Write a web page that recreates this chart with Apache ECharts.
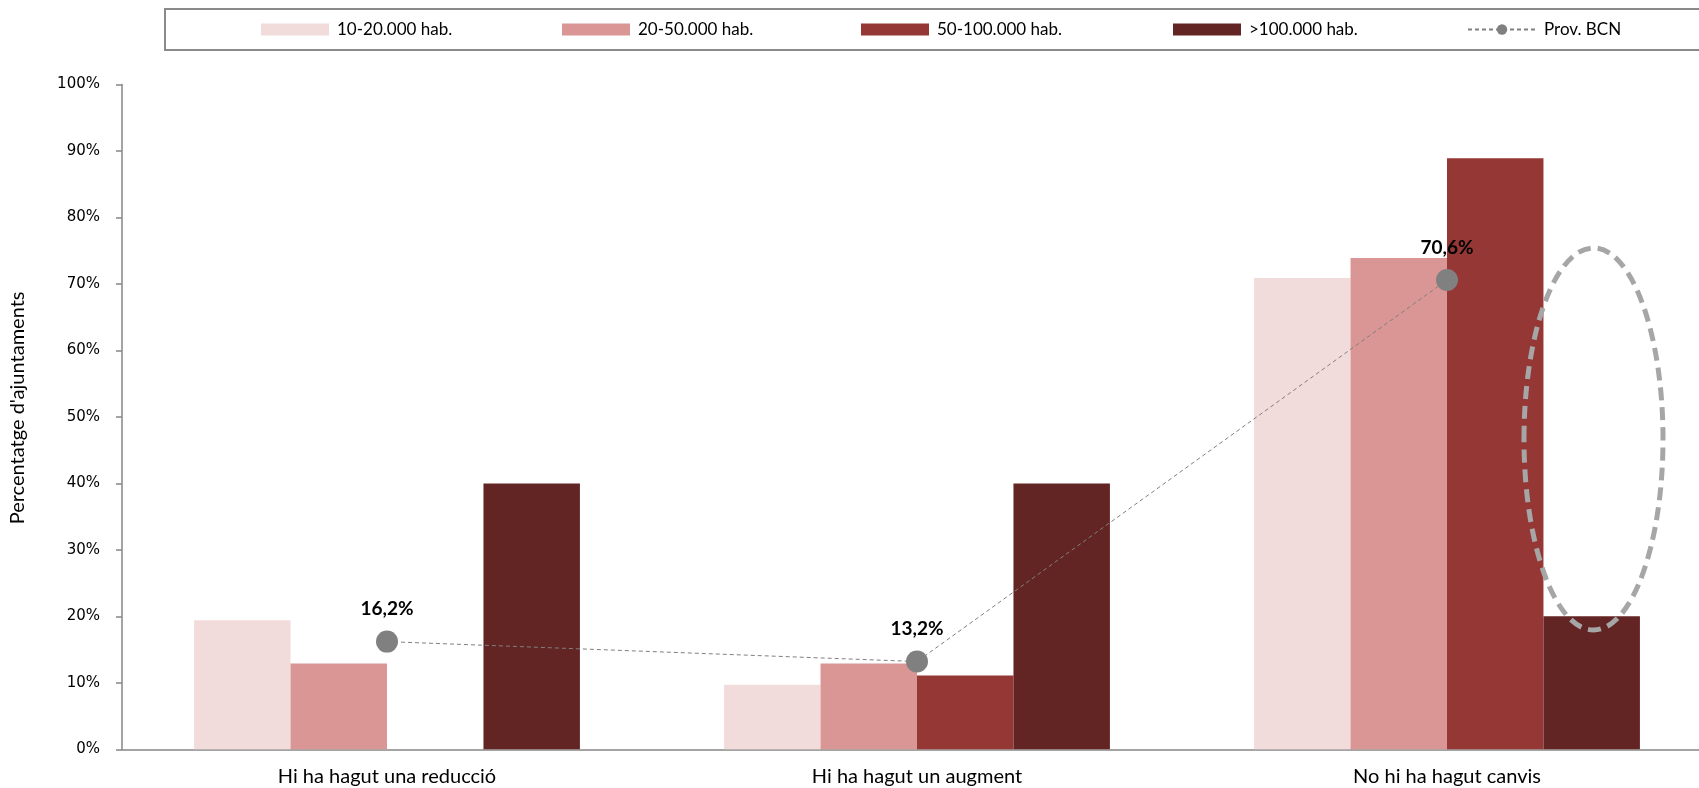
<!DOCTYPE html>
<html>
<head>
<meta charset="utf-8">
<script src="https://cdn.jsdelivr.net/npm/echarts@6/dist/echarts.min.js"></script>
<style>
html,body{margin:0;padding:0;background:#fff;}
#chart{width:1699px;height:788px;}
</style>
</head>
<body>
<div id="chart"></div>
<script>
const categories = ['Hi ha hagut una reducció', 'Hi ha hagut un augment', 'No hi ha hagut canvis'];
const seriesNames = ['10-20.000 hab.', '20-50.000 hab.', '50-100.000 hab.', '>100.000 hab.'];
const s10_20 = [19.4, 9.7, 70.9];
const s20_50 = [12.9, 12.9, 73.9];
const s50_100 = [0, 11.1, 88.9];
const s100 = [40, 40, 20];
const provBCN = [16.2, 13.2, 70.6];
const lineName = 'Prov. BCN';
const yTicks = [0, 10, 20, 30, 40, 50, 60, 70, 80, 90, 100];

const barColors = ['#F2DCDB', '#D99694', '#953735', '#632523'];
const barData = [s10_20, s20_50, s50_100, s100];

const chart = echarts.init(document.getElementById('chart'), null, {renderer: 'canvas'});

const legendLefts = [261, 562, 861, 1173, 1467];
const legendNames = seriesNames.concat([lineName]);
const legends = legendNames.map((n, i) => ({
  data: [n],
  left: legendLefts[i],
  top: 21,
  padding: 0,
  itemWidth: 68,
  itemHeight: i < 4 ? 12 : 13,
  itemGap: 0,
  icon: i < 4 ? 'rect' : undefined,
  textStyle: {fontFamily: 'Lato', fontSize: 17, color: '#000', padding: [0, 0, 0, 3]},
  selectedMode: false
}));

const series = barData.map((d, i) => ({
  name: seriesNames[i],
  type: 'bar',
  data: d,
  barGap: '0%',
  barCategoryGap: '27.2%',
  itemStyle: {color: barColors[i]},
  z: 2
}));
series.push({
  name: lineName,
  type: 'line',
  data: provBCN,
  symbol: 'circle',
  symbolSize: 22,
  itemStyle: {color: '#808080'},
  lineStyle: {color: '#808080', width: 1, type: [4, 3]},
  label: {
    show: true,
    position: 'top',
    distance: 12,
    fontFamily: 'Lato',
    fontWeight: 'bold',
    fontSize: 19,
    color: '#000',
    formatter: p => p.value.toFixed(1).replace('.', ',') + '%'
  },
  z: 5
});

chart.setOption({
  animation: false,
  backgroundColor: '#fff',
  legend: legends,
  grid: {left: 122, width: 1590, top: 84.5, bottom: 38.7, containLabel: false, outerBoundsMode: 'none'},
  xAxis: {
    type: 'category',
    data: categories,
    axisLine: {show: true, lineStyle: {color: '#868686', width: 1.5}},
    axisTick: {show: false},
    axisLabel: {fontFamily: 'Lato', fontSize: 20, color: '#000', margin: 17}
  },
  yAxis: {
    type: 'value',
    min: yTicks[0],
    max: yTicks[yTicks.length - 1],
    interval: 10,
    name: "Percentatge d'ajuntaments",
    nameLocation: 'middle',
    nameGap: 94,
    nameRotate: 90,
    nameTextStyle: {fontFamily: 'Lato', fontSize: 20, color: '#000', padding: [0, 0, 0, 18]},
    axisLine: {show: true, lineStyle: {color: '#868686', width: 1.5}},
    axisTick: {show: true, inside: false, length: 6, lineStyle: {color: '#868686', width: 1.5}},
    splitLine: {show: false},
    axisLabel: {fontFamily: 'DejaVu Sans', fontSize: 15, color: '#000', margin: 22, formatter: '{value}%'}
  },
  graphic: [
    {
      type: 'rect',
      shape: {x: 165, y: 9, width: 1600, height: 41},
      style: {fill: 'none', stroke: '#8a8a8a', lineWidth: 2},
      silent: true,
      z: 0
    },
    {
      type: 'ellipse',
      shape: {cx: 1593.5, cy: 439, rx: 69.5, ry: 191},
      style: {fill: 'none', stroke: '#A6A6A6', lineWidth: 5, lineDash: [13, 7]},
      silent: true,
      z: 10
    }
  ],
  series: series
});
</script>
</body>
</html>
